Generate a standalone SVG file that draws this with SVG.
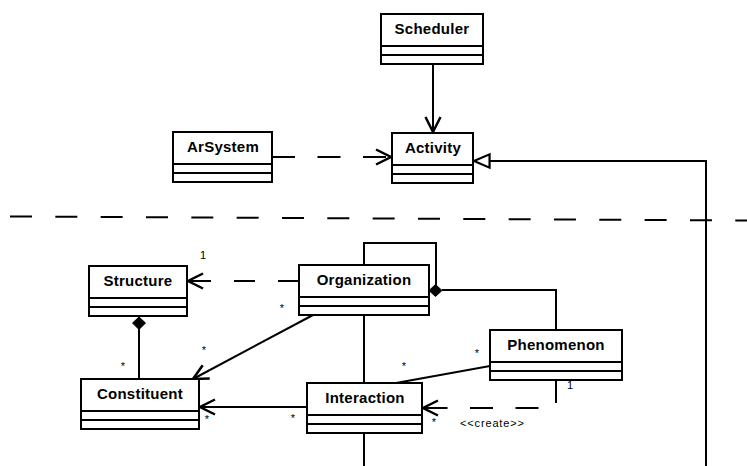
<svg xmlns="http://www.w3.org/2000/svg" width="747" height="466" viewBox="0 0 747 466">
<defs>
<style>
.box{fill:#fff;stroke:#000;stroke-width:2}
.div{stroke:#000;stroke-width:2}
.name{font-family:"Liberation Sans",Arial,sans-serif;font-weight:bold;font-size:15px;letter-spacing:0.25px;text-anchor:middle;fill:#000}
.ln{fill:none;stroke:#000;stroke-width:2}
.dash{stroke-dasharray:23 22.5}
.lbl{font-family:"Liberation Sans",Arial,sans-serif;font-size:11px;fill:#000}
.dia{fill:#000;stroke:#000;stroke-width:1}
</style>
<marker id="open" markerUnits="userSpaceOnUse" markerWidth="20" markerHeight="20" viewBox="-14 -8 16 16" refX="0" refY="0" orient="auto" overflow="visible">
<path d="M-12,-6 L0,0 L-12,6" fill="none" stroke="#000" stroke-width="2"/>
</marker>
<marker id="tri" markerUnits="userSpaceOnUse" markerWidth="20" markerHeight="20" viewBox="-16 -8 18 16" refX="0" refY="0" orient="auto" overflow="visible">
<path d="M0,0 L-14,-6 L-14,6 Z" fill="#fff" stroke="#000" stroke-width="2"/>
</marker>
</defs>
<rect width="747" height="466" fill="#fff"/>

<g id="connectors">
<line class="ln" x1="10" y1="216.5" x2="747" y2="220.5" style="stroke-dasharray:22 23.33"/>
<line class="ln" x1="433" y1="64" x2="433" y2="132" marker-end="url(#open)"/>
<line class="ln dash" x1="272" y1="157" x2="391" y2="157" marker-end="url(#open)"/>
<path class="ln" d="M706,466 V161 H474" marker-end="url(#tri)"/>
<line class="ln" x1="299" y1="281" x2="188" y2="281" style="stroke-dasharray:21 23" marker-end="url(#open)"/>
<path class="ln" d="M364,265 V243 H436 V285"/>
<polygon class="dia" points="429,290.5 435.5,284.5 442,290.5 435.5,296.5"/>
<path class="ln" d="M442,290 H556 V330"/>
<polygon class="dia" points="139,317 145.5,323 139,329.5 132.5,323"/>
<line class="ln" x1="139" y1="329" x2="139" y2="379"/>
<line class="ln" x1="313" y1="315" x2="193" y2="379" marker-end="url(#open)"/>
<line class="ln" x1="307" y1="407" x2="200" y2="407" marker-end="url(#open)"/>
<line class="ln" x1="364" y1="315" x2="364" y2="383"/>
<line class="ln" x1="364" y1="433" x2="364" y2="466"/>
<line class="ln" x1="490" y1="366" x2="396" y2="383"/>
<path class="ln dash" d="M556,380 V408 H423" marker-end="url(#open)"/>
<text class="lbl" x="203" y="259" text-anchor="middle">1</text>
<text class="lbl" x="570" y="389" text-anchor="middle">1</text>
<text class="lbl" x="282" y="312" text-anchor="middle">*</text>
<text class="lbl" x="204" y="354" text-anchor="middle">*</text>
<text class="lbl" x="123" y="370" text-anchor="middle">*</text>
<text class="lbl" x="207" y="423" text-anchor="middle">*</text>
<text class="lbl" x="293" y="422" text-anchor="middle">*</text>
<text class="lbl" x="404" y="370" text-anchor="middle">*</text>
<text class="lbl" x="477" y="357" text-anchor="middle">*</text>
<text class="lbl" x="434" y="426" text-anchor="middle">*</text>
<text class="lbl" x="460" y="427" style="letter-spacing:0.85px">&lt;&lt;create&gt;&gt;</text>
</g>

<g id="Scheduler">
<rect class="box" x="381" y="14" width="102" height="50"/>
<line class="div" x1="381" y1="46" x2="483" y2="46"/>
<line class="div" x1="381" y1="55" x2="483" y2="55"/>
<text class="name" x="432" y="34">Scheduler</text>
</g>
<g id="ArSystem">
<rect class="box" x="173" y="132" width="99" height="50"/>
<line class="div" x1="173" y1="164" x2="272" y2="164"/>
<line class="div" x1="173" y1="173" x2="272" y2="173"/>
<text class="name" x="223" y="152">ArSystem</text>
</g>
<g id="Activity">
<rect class="box" x="392" y="133" width="81" height="50"/>
<line class="div" x1="392" y1="165" x2="473" y2="165"/>
<line class="div" x1="392" y1="174" x2="473" y2="174"/>
<text class="name" x="433" y="153">Activity</text>
</g>
<g id="Structure">
<rect class="box" x="89" y="266" width="98" height="50"/>
<line class="div" x1="89" y1="298" x2="187" y2="298"/>
<line class="div" x1="89" y1="307" x2="187" y2="307"/>
<text class="name" x="138" y="286">Structure</text>
</g>
<g id="Organization">
<rect class="box" x="299" y="265" width="130" height="50"/>
<line class="div" x1="299" y1="297" x2="429" y2="297"/>
<line class="div" x1="299" y1="306" x2="429" y2="306"/>
<text class="name" x="364" y="285">Organization</text>
</g>
<g id="Constituent">
<rect class="box" x="81" y="379" width="118" height="50"/>
<line class="div" x1="81" y1="411" x2="199" y2="411"/>
<line class="div" x1="81" y1="420" x2="199" y2="420"/>
<text class="name" x="140" y="399">Constituent</text>
</g>
<g id="Interaction">
<rect class="box" x="307" y="383" width="115" height="50"/>
<line class="div" x1="307" y1="415" x2="422" y2="415"/>
<line class="div" x1="307" y1="424" x2="422" y2="424"/>
<text class="name" x="365" y="403">Interaction</text>
</g>
<g id="Phenomenon">
<rect class="box" x="490" y="330" width="132" height="50"/>
<line class="div" x1="490" y1="362" x2="622" y2="362"/>
<line class="div" x1="490" y1="371" x2="622" y2="371"/>
<text class="name" x="556" y="350">Phenomenon</text>
</g>
</svg>
